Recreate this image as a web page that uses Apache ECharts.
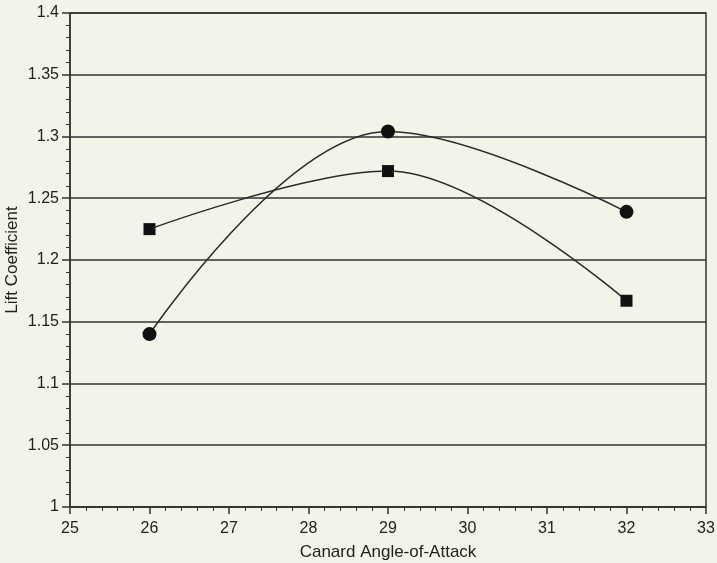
<!DOCTYPE html>
<html>
<head>
<meta charset="utf-8">
<script src="https://cdn.jsdelivr.net/npm/echarts@6/dist/echarts.min.js"></script>
<style>
  html, body { margin: 0; padding: 0; background: #f4f3e9; }
  #chart { width: 717px; height: 563px; }
</style>
</head>
<body>
<div id="chart"></div>
<script>
// canard angle (deg) vs lift coefficient
var angles = [26, 29, 32];
var liftCircle = [1.140, 1.304, 1.239];
var liftSquare = [1.225, 1.272, 1.167];

function pairs(xs, ys) {
	var out = [];
	for (var i = 0; i < xs.length; i++) {
		out.push([xs[i], ys[i]]);
	}
	return out;
}

var chart = echarts.init(document.getElementById('chart'));
var axisColor = '#222222';
var option = {
	backgroundColor: '#f4f3e9',
	animation: false,
	textStyle: { fontFamily: 'Liberation Sans, Arial, sans-serif' },
	grid: {
		left: 70, right: 11, top: 13, bottom: 56,
		outerBoundsMode: 'none',
		containLabel: false,
		show: true, borderColor: '#333333', borderWidth: 1.5,
		backgroundColor: 'transparent'
	},
	xAxis: {
		type: 'value',
		min: 25, max: 33, interval: 1,
		name: 'Canard Angle-of-Attack',
		nameLocation: 'middle',
		nameGap: 37,
		nameMoveOverlap: false,
		nameTextStyle: { color: axisColor, fontSize: 17 },
		axisLine: { lineStyle: { color: '#333333', width: 1.5 } },
		axisTick: { show: true, inside: false, length: 7, lineStyle: { color: '#333333', width: 1.5 } },
		minorTick: { show: true, splitNumber: 5, length: 4, lineStyle: { color: '#333333', width: 1 } },
		axisLabel: { color: axisColor, fontSize: 16, margin: 14 },
		splitLine: { show: false }
	},
	yAxis: {
		type: 'value',
		min: 1, max: 1.4, interval: 0.05,
		name: 'Lift Coefficient',
		nameLocation: 'middle',
		nameGap: 49,
		nameMoveOverlap: false,
		nameTextStyle: { color: axisColor, fontSize: 17 },
		axisLine: { show: true, lineStyle: { color: '#333333', width: 1.5 } },
		axisTick: { show: true, length: 8, lineStyle: { color: '#333333', width: 1.5 } },
		minorTick: { show: true, splitNumber: 5, length: 4, lineStyle: { color: '#333333', width: 1 } },
		axisLabel: {
			color: axisColor, fontSize: 16, margin: 11,
			formatter: function (v) { return String(Math.round(v * 100) / 100); }
		},
		splitLine: { show: true, lineStyle: { color: '#333333', width: 1.5 } }
	},
	series: [
		{
			type: 'line',
			data: pairs(angles, liftCircle),
			smooth: 0.38,
			symbol: 'circle',
			symbolSize: 14,
			itemStyle: { color: '#111111' },
			lineStyle: { color: '#2a2a2a', width: 1.5 }
		},
		{
			type: 'line',
			data: pairs(angles, liftSquare),
			smooth: 0.35,
			symbol: 'rect',
			symbolSize: 12,
			itemStyle: { color: '#111111' },
			lineStyle: { color: '#2a2a2a', width: 1.5 }
		}
	]
};
chart.setOption(option);
</script>
</body>
</html>
